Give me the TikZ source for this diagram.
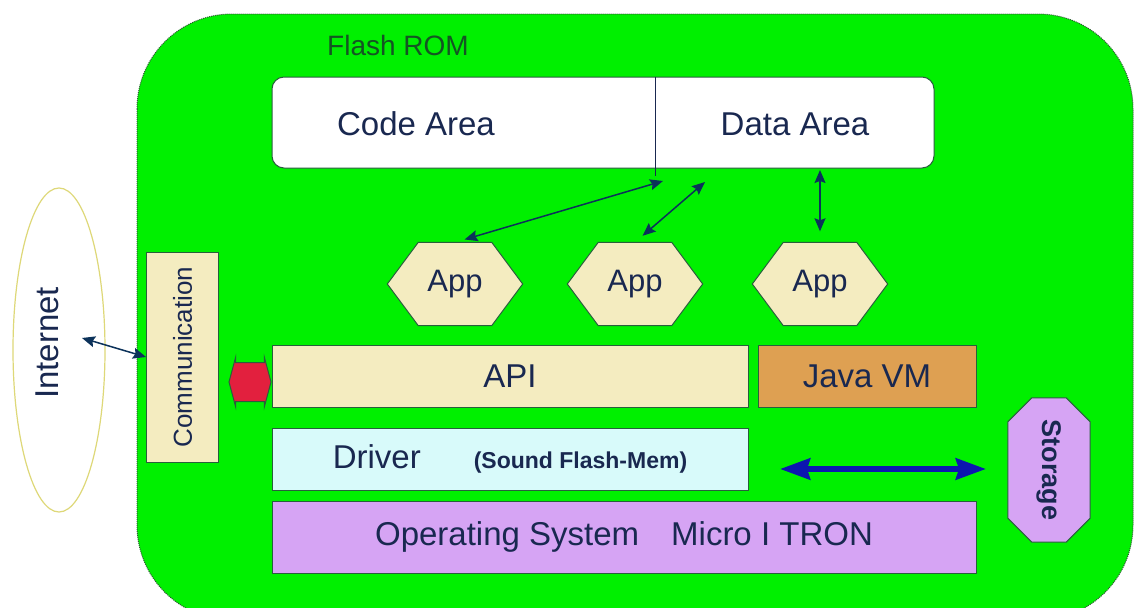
\documentclass[tikz,border=0pt]{standalone}
\usepackage{fontspec}
\usepackage{graphicx}
\setmainfont{Liberation Sans}
\usetikzlibrary{arrows.meta,shapes.geometric,shapes.arrows}
\pgfdeclarelayer{bg}
\pgfsetlayers{bg,main}

\definecolor{boardgreen}{RGB}{0,240,0}
\definecolor{boardline}{RGB}{45,85,50}
\definecolor{boxline}{RGB}{40,95,60}
\definecolor{ink}{RGB}{25,40,80}
\definecolor{romink}{RGB}{20,85,35}
\definecolor{beige}{RGB}{244,236,192}
\definecolor{drivercyan}{RGB}{216,250,250}
\definecolor{javatan}{RGB}{222,160,82}
\definecolor{violet}{RGB}{214,164,244}
\definecolor{linknavy}{RGB}{12,50,90}
\definecolor{busblue}{RGB}{12,22,176}
\definecolor{linkred}{RGB}{226,32,62}
\definecolor{netline}{RGB}{222,216,120}

\newcommand\bigfont{\fontsize{33}{38}\selectfont}
\newcommand\hexoutline[1]{%
  \draw[appshape] (#1.west) -- ([xshift=31]#1.north west) -- ([xshift=-31]#1.north east)
    -- (#1.east) -- ([xshift=-31]#1.south east) -- ([xshift=31]#1.south west) -- cycle;}

\begin{document}
\begin{tikzpicture}[x=1pt,y=-1pt,
  layerbox/.style={draw=boxline, line width=1pt, inner sep=0pt, text=ink, font=\bigfont},
  appnode/.style={minimum width=135, minimum height=83, inner sep=0pt, text=ink,
    font=\fontsize{31}{36}\selectfont},
  appshape/.style={fill=beige, draw=boxline, line width=1pt},
  datalink/.style={draw=linknavy, line width=1.5pt,
    {Stealth[length=13pt,width=11pt,inset=2pt]}-{Stealth[length=13pt,width=11pt,inset=2pt]}},
  buslink/.style={draw=busblue, line width=6pt,
    {Stealth[length=30pt,width=21pt,inset=3pt]}-{Stealth[length=30pt,width=21pt,inset=3pt]}}]

\useasboundingbox (0,0) rectangle (1136,608);

% canvas and device board
\begin{pgfonlayer}{bg}
  \fill[white] (0,0) rectangle (1136,608);
  \begin{scope}
    \clip (0,0) rectangle (1136,608);
    \draw[fill=boardgreen, draw=boardline, line width=1pt, densely dotted, rounded corners=95]
      (137,14) rectangle (1133,620);
  \end{scope}
\end{pgfonlayer}

\node[text=romink, font=\fontsize{28}{32}\selectfont] (romtitle) at (398,45) {Flash ROM};

% flash memory areas
\node[draw=boxline, line width=1pt, fill=white, rounded corners=12,
      minimum width=662, minimum height=91, inner sep=0pt] (rom) at (603,122.5) {};
\coordinate (split) at (655,176);
\draw[draw=ink, line width=1pt] (rom.north -| split) -- (split);
\node[text=ink, font=\bigfont] (code) at (416,124) {Code Area};
\node[text=ink, font=\bigfont] (data) at (795,124) {Data Area};

% applications
\node[appnode] (app1) at (455,284) {App};
\node[appnode] (app2) at (635,284) {App};
\node[appnode] (app3) at (820,284) {App};
\begin{pgfonlayer}{bg}
  \hexoutline{app1}
  \hexoutline{app2}
  \hexoutline{app3}
\end{pgfonlayer}

\coordinate (r1) at (663,181);
\coordinate (r2) at (705,182);
\coordinate (r3) at (820,170);
\draw[datalink, shorten <=10pt] (app1.north) -- (r1);
\draw[datalink, shorten <=10pt] (app2.north) -- (r2);
\draw[datalink, shorten <=11pt] (app3.north) -- (r3);

% middleware and system layers
\node[layerbox, fill=beige, minimum width=476, minimum height=62] (api) at (510,376)
  {API\hspace{48pt}};
\node[layerbox, fill=javatan, minimum width=218, minimum height=62] (jvm) at (867,376)
  {Java VM\hspace{20pt}};
\node[layerbox, fill=drivercyan, minimum width=476, minimum height=62] (driver) at (510,459)
  {Driver\hspace{53pt}{\bfseries\fontsize{23}{28}\selectfont(Sound Flash-Mem)}\hspace{24pt}};
\node[layerbox, fill=violet, minimum width=704, minimum height=72] (os) at (624,537)
  {Operating System\hspace{32pt}Micro I TRON\hspace{26pt}};

% storage
\node[minimum width=82, minimum height=144, inner sep=0pt, text=ink,
      font=\bfseries\fontsize{27}{30}\selectfont] (storage) at (1049,470)
  {\rotatebox{-90}{Storage}};
\begin{pgfonlayer}{bg}
  \draw[appshape, fill=violet]
    ([xshift=24]storage.north west) -- ([xshift=-24]storage.north east)
    -- ([yshift=-24]storage.north east) -- ([yshift=24]storage.south east)
    -- ([xshift=-24]storage.south east) -- ([xshift=24]storage.south west)
    -- ([yshift=24]storage.south west) -- ([yshift=-24]storage.north west) -- cycle;
\end{pgfonlayer}
\coordinate (b1) at (780,469);
\coordinate (b2) at (986,469);
\draw[buslink] (b1) -- (b2);

% communication
\node[layerbox, fill=beige, rotate=90, minimum width=210, minimum height=72,
      font=\fontsize{26}{30}\selectfont] (comm) at (182.5,357) {Communication};
\node[double arrow, fill=linkred, draw=boxline, line width=1pt,
      minimum height=42, double arrow head extend=5, double arrow tip angle=150,
      inner sep=0pt] (link) at (250,382) {\rule{0pt}{38pt}};

% internet
\node[ellipse, draw=netline, line width=1.2pt, fill=white, minimum width=92,
      minimum height=324, inner sep=0pt] (net) at (59,350) {};
\node[rotate=90, text=ink, font=\bigfont] (nettext) at (47,343) {Internet};
\coordinate (netpt) at (82,338);
\draw[datalink] (netpt) -- (comm.north);

\end{tikzpicture}
\end{document}
